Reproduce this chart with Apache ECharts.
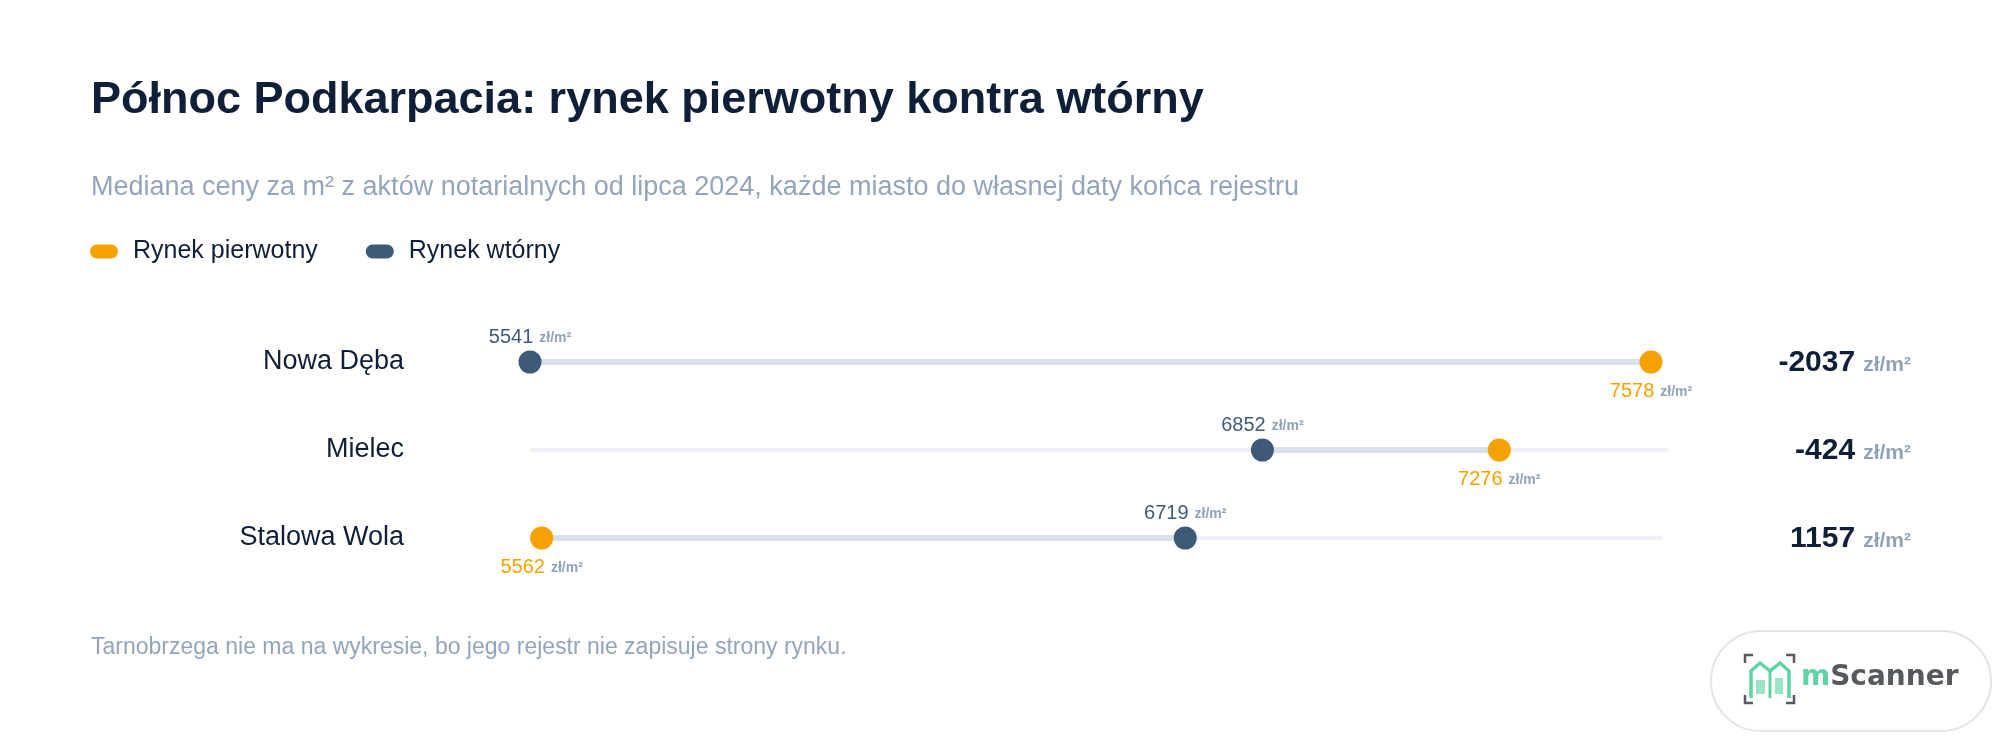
<!DOCTYPE html>
<html>
<head>
<meta charset="utf-8">
<script src="https://cdn.jsdelivr.net/npm/echarts@6/dist/echarts.min.js"></script>
<style>
  html, body { margin: 0; padding: 0; background: #ffffff; }
  #chart { width: 2000px; height: 747px; }
</style>
</head>
<body>
<div id="chart"></div>
<script>
// ---- data ----
const cities = ['Nowa Dęba', 'Mielec', 'Stalowa Wola'];
const primaryPrices = [7578, 7276, 5562];   // Rynek pierwotny
const secondaryPrices = [5541, 6852, 6719]; // Rynek wtórny
const seriesNames = ['Rynek pierwotny', 'Rynek wtórny'];
const unitLabel = 'zł/m²';
const titleText = 'Północ Podkarpacia: rynek pierwotny kontra wtórny';
const subtitleText = 'Mediana ceny za m² z aktów notarialnych od lipca 2024, każde miasto do własnej daty końca rejestru';
const footnoteText = 'Tarnobrzega nie ma na wykresie, bo jego rejestr nie zapisuje strony rynku.';

// ---- layout / style ----
const FONT = '"Liberation Sans", Arial, Helvetica, sans-serif';
const C_PRIMARY = '#f5a201';
const C_SECONDARY = '#3f5a78';
const C_DARK = '#0f1f38';
const C_MUTED = '#93a5bb';
const C_UNIT = '#8fa2b8';
const C_TRACK = '#eef2f6';
const C_RANGE = '#d8e1ea';
const rowCenters = [362, 450, 538];
const rowRightEdges = [1651, 1668, 1663];
const gridLeft = 530;
const deltaRightEdge = 1911;

const allValues = primaryPrices.concat(secondaryPrices);
const xMin = Math.min.apply(null, allValues);
const xMax = Math.max.apply(null, allValues);

const grids = [], xAxes = [], yAxes = [], series = [];

cities.forEach((city, i) => {
  const rightEdge = rowRightEdges[i];
  grids.push({ left: gridLeft, right: 2000 - rightEdge, top: rowCenters[i] - 30, height: 60 });
  xAxes.push({
    gridIndex: i, type: 'value', min: xMin, max: xMax,
    show: false, splitLine: { show: false }
  });
  const delta = secondaryPrices[i] - primaryPrices[i];
  yAxes.push({
    gridIndex: i, type: 'category', data: [city],
    axisLine: { show: false }, axisTick: { show: false }, splitLine: { show: false },
    axisLabel: { margin: 126, fontSize: 27, color: C_DARK, fontFamily: FONT, padding: [8, 0, 0, 0] }
  });
  yAxes.push({
    gridIndex: i, type: 'category', data: [String(delta)], position: 'right',
    axisLine: { show: false }, axisTick: { show: false }, splitLine: { show: false },
    axisLabel: {
      margin: deltaRightEdge - rightEdge, align: 'right', padding: [2, 0, 0, 0],
      formatter: (v) => '{d|' + v + '}{u|' + unitLabel + '}',
      rich: {
        d: { fontSize: 30, fontWeight: 'bold', color: C_DARK, fontFamily: FONT },
        u: { fontSize: 21, fontWeight: 'bold', color: C_UNIT, fontFamily: FONT, padding: [4, 0, 0, 8] }
      }
    }
  });
  const yIdx = i * 2;
  // full light track
  series.push({
    type: 'line', xAxisIndex: i, yAxisIndex: yIdx, silent: true, symbol: 'none',
    data: [[xMin, city], [xMax, city]],
    lineStyle: { color: C_TRACK, width: 4 }, z: 1, animation: false
  });
  // range between markets
  series.push({
    type: 'line', xAxisIndex: i, yAxisIndex: yIdx, silent: true, symbol: 'none',
    data: [[primaryPrices[i], city], [secondaryPrices[i], city]],
    lineStyle: { color: C_RANGE, width: 6 }, z: 2, animation: false
  });
  const mkLabel = (pos, color, dist) => ({
    show: true, position: pos, distance: dist,
    formatter: (p) => '{v|' + p.value[0] + '}{u|' + unitLabel + '}',
    rich: {
      v: { fontSize: 20, color: color, fontFamily: FONT },
      u: { fontSize: 14, fontWeight: 'bold', color: C_UNIT, fontFamily: FONT, padding: [2, 0, 0, 6] }
    }
  });
  series.push({
    name: seriesNames[0], type: 'scatter', xAxisIndex: i, yAxisIndex: yIdx,
    data: [[primaryPrices[i], city]], symbolSize: 23, clip: false,
    itemStyle: { color: C_PRIMARY, opacity: 1 }, z: 5, animation: false,
    label: mkLabel('bottom', C_PRIMARY, 8)
  });
  series.push({
    name: seriesNames[1], type: 'scatter', xAxisIndex: i, yAxisIndex: yIdx,
    data: [[secondaryPrices[i], city]], symbolSize: 23, clip: false,
    itemStyle: { color: C_SECONDARY, opacity: 1 }, z: 5, animation: false,
    label: mkLabel('top', C_SECONDARY, 3)
  });
});

const pillIcon = 'path://M7,0 L21,0 A7,7 0 0 1 21,14 L7,14 A7,7 0 0 1 7,0 Z';
const LX = 1710, LY = 630;
const logoFont = '"DejaVu Sans", sans-serif';
const option = {
  backgroundColor: '#ffffff',
  animation: false,
  title: [
    { text: titleText, left: 91, top: 78, padding: 0,
      textStyle: { fontSize: 45, fontWeight: 'bold', color: C_DARK, fontFamily: FONT } },
    { text: subtitleText, left: 91, top: 174, padding: 0,
      textStyle: { fontSize: 27, fontWeight: 'normal', color: C_MUTED, fontFamily: FONT } },
    { text: footnoteText, left: 91, top: 636, padding: 0,
      textStyle: { fontSize: 23, fontWeight: 'normal', color: C_MUTED, fontFamily: FONT } },
    { text: '{g|m}{d|Scanner}', left: 1801, top: 664, padding: 0, z: 10,
      textStyle: {
        rich: {
          g: { fontSize: 28, fontWeight: 'bold', fontFamily: logoFont, color: '#5fd3a4' },
          d: { fontSize: 28, fontWeight: 'bold', fontFamily: logoFont, color: '#56595e' }
        } } }
  ],
  legend: {
    data: seriesNames, left: 90, top: 239, padding: 0, icon: pillIcon,
    itemWidth: 28, itemHeight: 14, itemGap: 48, selectedMode: false,
    textStyle: { fontSize: 25, color: C_DARK, fontFamily: FONT, padding: [0, 0, 0, 10] }
  },
  grid: grids, xAxis: xAxes, yAxis: yAxes, series: series,
  graphic: [
    { type: 'rect', left: LX, top: LY, silent: true, z: -1,
      shape: { x: 0, y: 0, width: 280, height: 100, r: 50 },
      style: { fill: '#ffffff', stroke: '#e4e4e4', lineWidth: 2 } },
    { type: 'group', x: LX, y: LY, silent: true,
      children: [
        { type: 'polyline', shape: { points: [[35, 33], [35, 25], [43, 25]] }, style: { stroke: '#555a60', lineWidth: 2.5, fill: null } },
        { type: 'polyline', shape: { points: [[76, 25], [84, 25], [84, 33]] }, style: { stroke: '#555a60', lineWidth: 2.5, fill: null } },
        { type: 'polyline', shape: { points: [[35, 65], [35, 73], [43, 73]] }, style: { stroke: '#555a60', lineWidth: 2.5, fill: null } },
        { type: 'polyline', shape: { points: [[76, 73], [84, 73], [84, 65]] }, style: { stroke: '#555a60', lineWidth: 2.5, fill: null } },
        { type: 'polyline', shape: { points: [[41, 68], [41, 41], [50, 33], [60, 41], [70, 33], [79, 41], [79, 68]] },
          style: { stroke: '#5fd3a4', lineWidth: 3.5, fill: null } },
        { type: 'polyline', shape: { points: [[60, 41], [60, 68]] }, style: { stroke: '#5fd3a4', lineWidth: 3, fill: null } },
        { type: 'rect', shape: { x: 46, y: 50, width: 9, height: 14 }, style: { fill: '#9be4c6' } },
        { type: 'rect', shape: { x: 65, y: 48, width: 8, height: 16 }, style: { fill: '#9be4c6' } }
      ] }
  ]
};

const chart = echarts.init(document.getElementById('chart'), null, { renderer: 'canvas' });
chart.setOption(option);
</script>
</body>
</html>
